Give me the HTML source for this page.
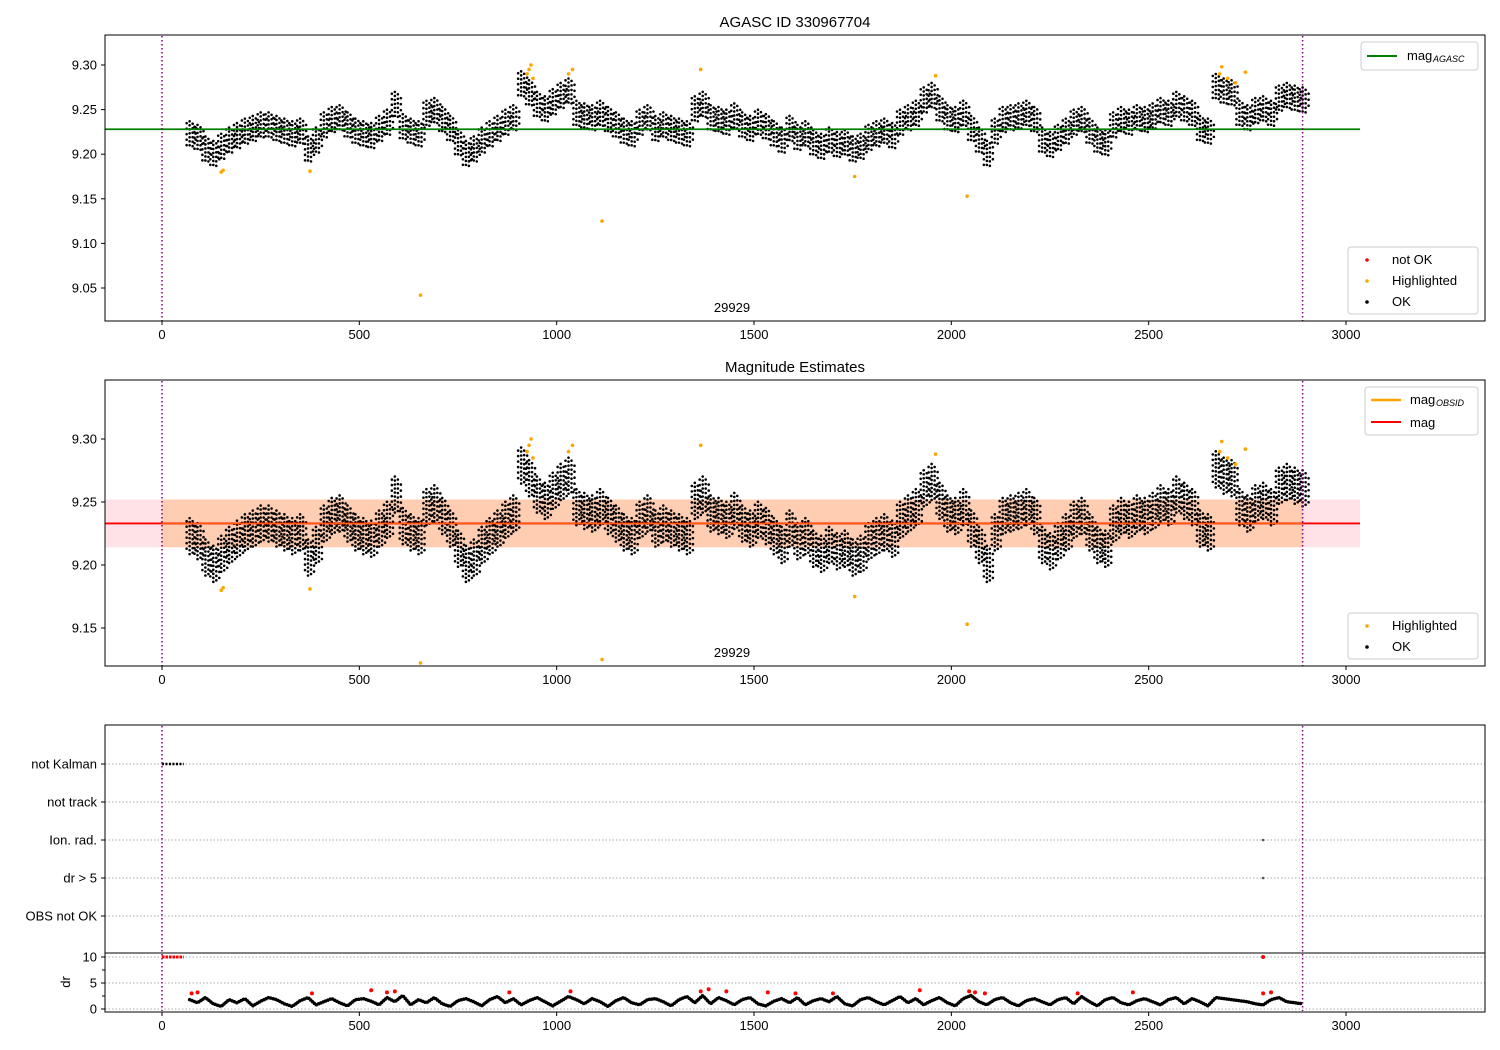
<!DOCTYPE html>
<html><head><meta charset="utf-8"><style>
body{margin:0;background:#fff;}
svg{display:block;font-family:"Liberation Sans","DejaVu Sans",sans-serif;}
</style></head><body>
<svg id="fig" width="1500" height="1050" viewBox="0 0 1500 1050"></svg>
<script>
// ---- data ----
const binStart = 70, binStep = 20;
const magMeans = [
9.222,9.218,9.205,9.200,9.208,9.215,9.220,9.225,9.228,9.232,
9.232,9.228,9.225,9.222,9.225,9.205,9.215,9.232,9.238,9.240,
9.232,9.225,9.222,9.220,9.228,9.235,9.255,9.230,9.225,9.222,
9.245,9.248,9.238,9.228,9.212,9.200,9.205,9.215,9.222,9.228,
9.235,9.240,9.278,9.268,9.255,9.250,9.258,9.265,9.270,9.245,
9.242,9.240,9.245,9.238,9.232,9.225,9.222,9.235,9.240,9.228,
9.232,9.228,9.225,9.222,9.250,9.255,9.240,9.238,9.235,9.242,
9.232,9.228,9.235,9.230,9.222,9.215,9.228,9.218,9.222,9.212,
9.208,9.215,9.210,9.212,9.205,9.208,9.218,9.222,9.225,9.220,
9.235,9.240,9.245,9.260,9.265,9.250,9.240,9.238,9.245,9.228,
9.215,9.200,9.225,9.238,9.240,9.242,9.245,9.238,9.215,9.210,
9.218,9.225,9.235,9.238,9.225,9.215,9.212,9.232,9.238,9.235,
9.240,9.238,9.242,9.248,9.245,9.255,9.250,9.245,9.228,9.225,
9.275,9.270,9.268,9.245,9.240,9.248,9.250,9.245,9.262,9.265,
9.262,9.260];
const magSpread = 0.016;
const drVals = [
1.8,1.2,2.2,1.0,0.5,1.8,1.2,2.0,0.6,1.5,
2.2,1.8,1.0,0.5,1.6,2.2,0.8,1.4,2.0,1.2,
0.6,1.8,2.0,1.5,0.8,2.2,1.4,2.6,0.8,1.8,
1.2,2.2,1.0,0.5,1.6,2.0,1.4,0.6,1.8,2.4,
1.2,2.0,0.8,1.6,2.2,1.4,0.6,1.5,2.4,1.8,
1.0,2.0,1.4,0.5,1.6,2.2,1.2,0.8,1.8,2.0,
1.4,0.6,1.8,2.4,1.2,2.6,1.0,2.2,1.6,0.8,
1.8,2.2,1.0,0.6,1.5,2.0,1.2,2.2,0.8,1.6,
2.0,1.4,2.4,1.0,0.6,1.8,2.2,1.4,0.8,1.6,
2.4,1.2,2.0,0.8,1.6,2.2,1.2,0.6,2.0,2.6,
1.4,0.8,1.8,2.2,1.2,0.6,1.6,2.0,1.4,0.8,
1.8,2.2,1.0,2.4,1.4,0.6,1.8,2.2,1.2,0.8,
1.6,2.0,1.4,0.8,1.8,2.2,1.0,2.0,1.4,0.6,
2.2,2.0,1.8,1.6,1.4,1.0,0.8,1.8,2.2,1.4,
1.2,1.0];
const hlTimes = [150,155,375,655,925,930,935,940,1030,1040,1115,1365,1755,1960,2040,2680,2685,2700,2720,2745];
const hlMags  = [9.180,9.182,9.181,9.042,9.290,9.295,9.300,9.285,9.290,9.295,9.125,9.295,9.175,9.288,9.153,9.290,9.298,9.285,9.280,9.292];
const drRedTimes = [75,90,380,530,570,590,880,1035,1365,1385,1430,1535,1605,1700,1920,2045,2060,2085,2320,2460,2790,2810];
const drRedVals  = [3.0,3.2,3.0,3.6,3.2,3.4,3.2,3.4,3.4,3.8,3.4,3.2,3.0,3.0,3.6,3.4,3.2,3.0,3.0,3.2,3.0,3.2];
const xTicks = [0,500,1000,1500,2000,2500,3000];
const y1Ticks = [9.05,9.10,9.15,9.20,9.25,9.30];
const y2Ticks = [9.15,9.20,9.25,9.30];
const flagLabels = ["not Kalman","not track","Ion. rad.","dr > 5","OBS not OK"];
const drTicks = [0,5,10];
const magAgasc = 9.228, magObs = 9.233, magLo = 9.214, magHi = 9.252;
const tEnd = 2890;

// ---- helpers ----
const NS="http://www.w3.org/2000/svg", svg=document.getElementById('fig');
function el(tag, at, parent){const e=document.createElementNS(NS,tag);for(const k in at)e.setAttribute(k,at[k]);(parent||svg).appendChild(e);return e;}
const X = t => 162 + t*0.39467;
const Y1 = v => 65 + (9.30-v)*892;
const Y2 = v => 439 + (9.30-v)*1260;
const FY = i => 764 + i*38;
const DY = d => 1009 - d*5.2;

function axesFrame(top,bottom,name){
  const r=el('rect',{x:105,y:top,width:1380,height:bottom-top,fill:'none',stroke:'#000','stroke-width':1});
  
  
  xTicks.forEach(t=>{
    el('line',{x1:X(t),x2:X(t),y1:bottom,y2:bottom+4,stroke:'#000'});
    const tx=el('text',{x:X(t),y:bottom+18,'font-size':13,'text-anchor':'middle'});tx.textContent=t;
    
    
  });
}
function yTick(y,label){
  el('line',{x1:101,x2:105,y1:y,y2:y,stroke:'#000'});
  const t=el('text',{x:97,y:y+4.5,'font-size':13,'text-anchor':'end'});t.textContent=label;
  
  
}
function vlines(top,bottom){
  [0,tEnd].forEach(t=>el('line',{x1:X(t),x2:X(t),y1:top,y2:bottom,stroke:'#800080','stroke-width':1.5,'stroke-dasharray':'1.5 2.5'}));
}
const colOff=[-3,0,3,6];
const colDash=['0 5.5','0 4','0 4.5','0 6'];
const colScale=[0.8,1,0.9,0.7];
function magScatter(Y,clipTop,clipBot,name){
  const g=el('g',{});
  
  
  magMeans.forEach((m,i)=>{
    const t=binStart+i*binStep;
    colOff.forEach((o,k)=>{
      const s=magSpread*colScale[k];
      const y1=Math.max(clipTop,Y(m+s)), y2=Math.min(clipBot,Y(m-s));
      el('line',{x1:X(t)+o,x2:X(t)+o,y1:y1+k,y2:y2,stroke:'#000','stroke-width':2.6,'stroke-linecap':'round','stroke-dasharray':colDash[k]},g);
    });
  });
  return g;
}
function hl(Y,clipTop,clipBot,name){
  const g=el('g',{});
  
  
  hlTimes.forEach((t,i)=>{let y=Y(hlMags[i]); if(y>clipBot) y=clipBot-2; if(y<clipTop) return;
    el('circle',{cx:X(t),cy:y,r:1.8,fill:'orange'},g);});
}
function text(x,y,s,size,anchor,name,extra){
  const t=el('text',Object.assign({x:x,y:y,'font-size':size,'text-anchor':anchor||'start'},extra||{}));t.textContent=s;
  
  
  return t;
}
function legendBox(x,y,w,h,name){
  const r=el('rect',{x:x,y:y,width:w,height:h,rx:3,fill:'#fff','fill-opacity':0.85,stroke:'#ccc'});
  
  
}

// ---- panel 1 ----
text(795,27,'AGASC ID 330967704',15,'middle','title-top');
y1Ticks.forEach(v=>yTick(Y1(v),v.toFixed(2)));
magScatter(Y1,36,320,'ok-points-top');
el('line',{x1:105,x2:1360,y1:Y1(magAgasc),y2:Y1(magAgasc),stroke:'green','stroke-width':1.8});
hl(Y1,36,320,'highlighted-points-top');
vlines(36,321);
text(732,312,'29929',13,'middle','obsid-label-top');
axesFrame(35,321,'axes-top');
legendBox(1361,42,117,28,'legend-agasc');
el('line',{x1:1367,x2:1397,y1:56,y2:56,stroke:'green','stroke-width':2});
text(1407,60,'mag',13,'start','legend-mag-agasc');text(1433,62,'AGASC',9,'start','legend-sub',{'font-style':'italic'});
legendBox(1348,247,130,67,'legend-status-top');
el('circle',{cx:1367,cy:260,r:1.8,fill:'red'});text(1392,264,'not OK',13,'start','legend-not-ok');
el('circle',{cx:1367,cy:281,r:1.8,fill:'orange'});text(1392,285,'Highlighted',13,'start','legend-highlighted');
el('circle',{cx:1367,cy:302,r:1.8,fill:'#000'});text(1392,306,'OK',13,'start','legend-ok');

// ---- panel 2 ----
text(795,372,'Magnitude Estimates',15,'middle','title-mid');
el('rect',{x:105,y:Y2(magHi),width:1255,height:Y2(magLo)-Y2(magHi),fill:'#ff9eb0','fill-opacity':0.3});
el('rect',{x:X(0),y:Y2(magHi),width:X(tEnd)-X(0),height:Y2(magLo)-Y2(magHi),fill:'#ffa64d','fill-opacity':0.35});
y2Ticks.forEach(v=>yTick(Y2(v),v.toFixed(2)));
magScatter(Y2,381,665,'ok-points-mid');
el('line',{x1:105,x2:1360,y1:Y2(magObs),y2:Y2(magObs),stroke:'red','stroke-width':1.8});
el('line',{x1:X(0),x2:X(tEnd),y1:Y2(magObs),y2:Y2(magObs),stroke:'orange','stroke-width':1.2,'stroke-opacity':0.6});
hl(Y2,381,665,'highlighted-points-mid');
vlines(381,666);
text(732,657,'29929',13,'middle','obsid-label-mid');
axesFrame(380,666,'axes-mid');
legendBox(1365,387,113,48,'legend-mag');
el('line',{x1:1371,x2:1401,y1:400,y2:400,stroke:'orange','stroke-width':2.5});
text(1410,404,'mag',13,'start','legend-mag-obsid');text(1436,406,'OBSID',9,'start','legend-sub2',{'font-style':'italic'});
el('line',{x1:1371,x2:1401,y1:422,y2:422,stroke:'red','stroke-width':2});
text(1410,427,'mag',13,'start','legend-mag');
legendBox(1348,613,130,46,'legend-status-mid');
el('circle',{cx:1367,cy:626,r:1.8,fill:'orange'});text(1392,630,'Highlighted',13,'start','legend-highlighted-mid');
el('circle',{cx:1367,cy:647,r:1.8,fill:'#000'});text(1392,651,'OK',13,'start','legend-ok-mid');

// ---- panel 3 ----
flagLabels.forEach((l,i)=>{
  el('line',{x1:105,x2:1485,y1:FY(i),y2:FY(i),stroke:'#aaa','stroke-dasharray':'1.5 2'});
  yTick(FY(i),l);
});
drTicks.forEach(d=>{el('line',{x1:105,x2:1485,y1:DY(d),y2:DY(d),stroke:'#aaa','stroke-dasharray':'1.5 2'});yTick(DY(d),d);});
[2.5,7.5].forEach(d=>el('line',{x1:102,x2:105,y1:DY(d),y2:DY(d),stroke:'#000'}));
text(70,982,'dr',13,'middle','dr-axis-title',{transform:'rotate(-90 70 982)'});
el('line',{x1:X(0),x2:X(55),y1:FY(0),y2:FY(0),stroke:'#000','stroke-width':2.5,'stroke-dasharray':'2 1.5'});
el('circle',{cx:X(2790),cy:FY(2),r:1.3,fill:'#555'});el('circle',{cx:X(2790),cy:FY(3),r:1.3,fill:'#555'});
el('line',{x1:X(0),x2:X(55),y1:DY(10),y2:DY(10),stroke:'red','stroke-width':3,'stroke-dasharray':'2.5 1'});
el('circle',{cx:X(2790),cy:DY(10),r:2,fill:'red'});
const drG=el('g',{});


const pts=drVals.map((d,i)=>X(binStart+i*binStep)+','+DY(d)).join(' ');
el('polyline',{points:pts,fill:'none',stroke:'#000','stroke-width':3.5,'stroke-linecap':'round','stroke-dasharray':'0 2.5'},drG);
drRedTimes.forEach((t,i)=>el('circle',{cx:X(t),cy:DY(drRedVals[i]),r:2,fill:'red'},drG));
vlines(726,1011);
el('line',{x1:105,x2:1485,y1:953,y2:953,stroke:'#000'});
axesFrame(725,1012,'axes-bottom');
</script>
</body></html>
